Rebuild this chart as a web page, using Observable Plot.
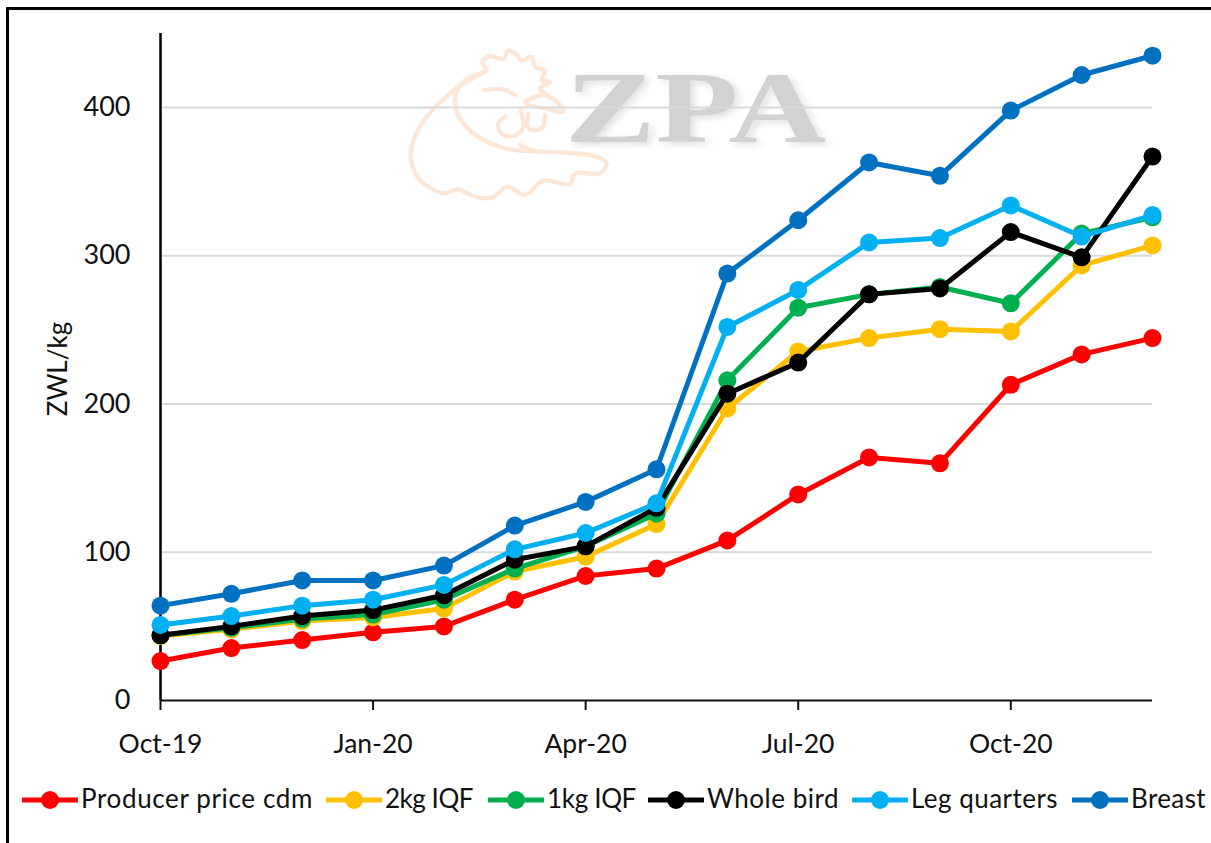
<!DOCTYPE html>
<html><head><meta charset="utf-8">
<script src="https://cdn.jsdelivr.net/npm/d3@7"></script>
<script src="https://cdn.jsdelivr.net/npm/@observablehq/plot@0.6"></script>
<style>
html,body{margin:0;padding:0;background:#fff;overflow:hidden}
#page{position:relative;width:1211px;height:843px;font-family:Lato,sans-serif;color:#111}
#frame{position:absolute;left:6px;top:7px;right:0;bottom:0;border-left:3px solid #000;border-top:3px solid #000}
#wm{position:absolute;left:0;top:0}
#chart{position:absolute;left:0;top:0}
#chart svg{display:block;background:transparent}
#legend{position:absolute;left:0;top:760px;width:1211px;height:83px}
.it{position:absolute;top:0;height:80px}
.it svg{position:absolute;left:0;top:30px}
.it span{position:absolute;top:22px;font-size:26px;line-height:32px;white-space:nowrap}
</style></head><body>
<div id="page"><div id="frame"></div><svg id="wm" width="1211" height="843"></svg><div id="chart"></div><div id="legend"></div></div>
<script>
const months=["Oct-19","Nov-19","Dec-19","Jan-20","Feb-20","Mar-20","Apr-20","May-20","Jun-20","Jul-20","Aug-20","Sep-20","Oct-20","Nov-20","Dec-20"];
const tickMonths=["Oct-19","Jan-20","Apr-20","Jul-20","Oct-20"];
const producer=[26.6,35.4,40.8,46,50,68,84,89,108,139,164,160,213,233.5,244.5];
const iqf2=[43.5,48,53.6,56,62,87,97,119,197,235.5,244.5,250.5,249,293.5,307];
const iqf1=[44,49,55,58,68,89,104,126,216,265,274,279,268,315,326];
const whole=[44,50,57,61,71,95,104,130,207,228,274,278,316,299,367];
const leg=[51,57,64,68,78,102,113,133,252,277,309,312,334,313,327.5];
const breast=[64,72,81,81,91,118,134,156,288,324,363,354,398,422,435];
const names=["Producer price cdm","2kg IQF","1kg IQF","Whole bird","Leg quarters","Breast"];
const values=[producer,iqf2,iqf1,whole,leg,breast];
const colors=["#ff0000","#ffc000","#00b050","#000000","#00b0f0","#0070c0"];
const legendX=[22,326,488,648,852,1072];
const legendTextWidth=[232,88,89,132,147,75];

const rows=names.flatMap((n,i)=>values[i].map((v,j)=>({series:n,idx:j,value:v})));
const font={fontFamily:"Lato, sans-serif"};
const marks=[
  Plot.ruleY([100,200,300,400],{stroke:"#d9d9d9",strokeWidth:2}),
  Plot.axisY({anchor:"left",ticks:[0,100,200,300,400],tickSize:0,tickPadding:30,label:null,fontSize:27,...font,fill:"#111"}),
  Plot.axisX(tickMonths.map(m=>months.indexOf(m)),{anchor:"bottom",tickSize:10,tickPadding:24,label:null,tickFormat:i=>months[i],fontSize:26.5,...font,fill:"#111",stroke:"#111",strokeWidth:2}),
  Plot.ruleX([0],{stroke:"#000",strokeWidth:2.5}),
  Plot.ruleY([0],{stroke:"#111",strokeWidth:2}),
  Plot.text(["ZWL/kg"],{frameAnchor:"left",textAnchor:"middle",rotate:-90,dx:-102,dy:2,fontSize:26,...font,fill:"#111"})
];
names.forEach((n,i)=>{
  const d=rows.filter(r=>r.series===n);
  marks.push(Plot.line(d,{x:"idx",y:"value",stroke:colors[i],strokeWidth:5,curve:"linear"}));
  marks.push(Plot.dot(d,{x:"idx",y:"value",fill:colors[i],r:9,stroke:"none"}));
});
const chart=Plot.plot({
  width:1211,height:760,marginLeft:160,marginRight:59,marginTop:33,marginBottom:60,
  style:{background:"transparent",overflow:"visible"},
  x:{type:"linear",domain:[0,months.length-1]},
  y:{domain:[0,450]},
  marks
});
document.getElementById("chart").append(chart);

// legend
const lg=document.getElementById("legend");
names.forEach((n,i)=>{
  const it=document.createElement("div");it.className="it";it.style.left=legendX[i]+"px";
  it.innerHTML=`<svg width="56" height="20"><line x1="1" y1="10" x2="55" y2="10" stroke="${colors[i]}" stroke-width="5" stroke-linecap="round"/><circle cx="28" cy="10" r="9" fill="${colors[i]}"/></svg><span style="left:59px">${n}</span>`;
  lg.append(it);
  const s=it.querySelector("span");
  const w=s.getBoundingClientRect().width;
  s.style.letterSpacing=((legendTextWidth[i]-w)/n.length)+"px";
});

// watermark logo
const wm=d3.select("#wm");
const g=wm.append("g").attr("transform","translate(400,30) scale(0.3333)")
  .attr("fill","none").attr("stroke","#fce6d5").attr("stroke-width",13).attr("stroke-linecap","round").attr("stroke-linejoin","round");
const ln=d3.line().curve(d3.curveCatmullRom.alpha(0.5));
const strokes=[
 [[250,128],[150,190],[60,290],[32,380],[60,450],[130,490],[175,478],[225,500],[275,503],[322,470],[375,495],[430,452],[510,462],[525,430],[600,430],[620,400],[590,380],[500,368],[400,362],[360,345]],
 [[255,125],[185,160],[165,215],[190,280],[250,330],[340,360],[400,362]],
 [[260,118],[247,95],[270,78],[310,88],[325,62],[350,75],[365,92],[395,80],[405,110],[435,122],[425,150],[450,157],[420,175],[440,195]],
 [[375,215],[430,195],[470,215],[490,245],[430,235],[380,225]],
 [[362,240],[368,295],[340,318],[305,312],[295,280],[315,260]],
 [[385,250],[385,295],[425,295],[435,255]],
 [[255,180],[310,178],[345,195]]
];
strokes.forEach(p=>g.append("path").attr("d",ln(p)));
wm.append("text").text("ZPA").attr("transform","translate(565,142) scale(1.33,1)")
  .attr("font-family","Liberation Serif").attr("font-weight",700).attr("font-size",102)
  .attr("fill","#d2d2d2").style("filter","drop-shadow(3px 3px 3px rgba(0,0,0,.12))");
</script></body></html>
